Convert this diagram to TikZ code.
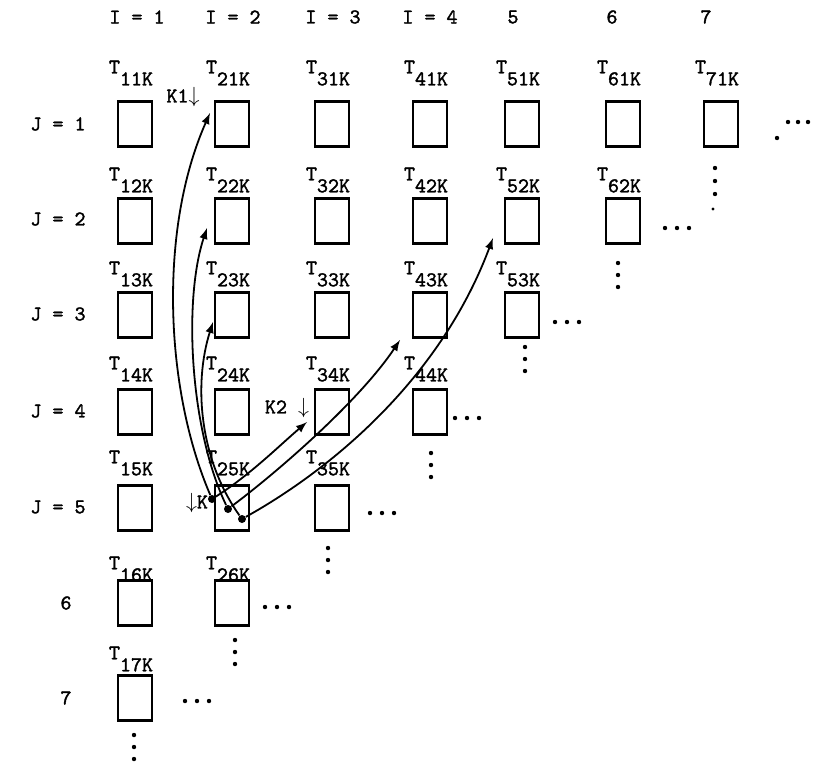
\documentclass[tikz,border=0pt]{standalone}
\usepackage{fontspec}
\usepackage{tikz}
\usetikzlibrary{arrows.meta}
\newfontfamily\typefont{lmmono10-regular.otf}[FakeBold=1.6]
\newcommand{\tlab}[1]{T\raisebox{-6pt}{#1}}

\begin{document}
\begin{tikzpicture}[>=latex, x=0.5pt, y=-0.5pt,
    font=\fontsize{10.5}{12}\typefont,
    cell/.style={draw, line width=1.3pt, minimum width=17pt, minimum height=22.5pt, inner sep=0pt},
    kdot/.style={circle, fill, inner sep=0pt, minimum size=4pt},
    flow/.style={->, line width=0.9pt}]
    \useasboundingbox (0,0) rectangle (819,761);

    % Kopfzeile I und Zeilen J
    \node (i1) at (137,17) {I = 1};
    \node (i2) at (233,17) {I = 2};
    \node (i3) at (333,17) {I = 3};
    \node (i4) at (430,17) {I = 4};
    \node (i5) at (513,17) {5};
    \node (i6) at (612,17) {6};
    \node (i7) at (706,17) {7};
    \node (j1) at (58,124) {J = 1};
    \node (j2) at (58,219) {J = 2};
    \node (j3) at (58,314) {J = 3};
    \node (j4) at (58,411) {J = 4};
    \node (j5) at (58,507) {J = 5};
    \node (j6) at (66,603) {6};
    \node (j7) at (66,698) {7};

    % Zellen T_IJK (Dreieck)
    \foreach \y/\ty [count=\j] in {124/73,221/180,315/274,412/369,508/463,603/569,698/659}{
        \pgfmathtruncatemacro{\n}{8-\j}
        \foreach \x [count=\i] in {135,232,332,430,522,623,721}{
            \ifnum\i>\n\else
                \node[cell] (b\i\j) at (\x,\y) {};
                \node (t\i\j) at (\x-4,\ty) {\tlab{\i\j K}};
            \fi
        }
    }

    % Punkte rechts
    \foreach \x/\y in {665/228, 555/322, 455/418, 370/513, 265/607, 185/701}
        \foreach \k in {0,1,2}
            \fill (\x+12*\k,\y) circle (1.1pt);
    \fill (777,138) circle (1.1pt);
    \foreach \k in {0,1,2}
        \fill (788+10*\k,122) circle (1.1pt);
    % Punkte unten
    \foreach \x/\y in {618/263, 525/347, 431/453, 328/548, 235/640, 134/735}
        \foreach \k in {0,1,2}
            \fill (\x,\y+12*\k) circle (1.1pt);
    \foreach \k in {0,1,2}
        \fill (715,168+13*\k) circle (1.1pt);
    \fill (713,209) circle (0.8pt);

    % Richtungen
    \node (k1) at (183,97) {K1$\downarrow$};
    \node (k2) at (287,408) {K2 $\downarrow$};
    \node (kk) at (197,503) {$\downarrow$K};

    % Abhaengigkeiten von T25K
    \node[kdot] (ka) at (212,499) {};
    \node[kdot] (kb) at (228,509) {};
    \node[kdot] (kc) at (242,519) {};
    \coordinate (e21) at (210,113);
    \coordinate (e22) at (207,228);
    \coordinate (e23) at (213,322);
    \coordinate (e34) at (307,422);
    \coordinate (e43) at (400,340);
    \coordinate (e52) at (493,238);
    \draw[flow] (ka) .. controls (165,390) and (158,230) .. (e21);
    \draw[flow] (kb) .. controls (190,430) and (183,300) .. (e22);
    \draw[flow] (kc) .. controls (200,460) and (193,385) .. (e23);
    \draw[flow] (ka) .. controls (250,475) and (280,445) .. (e34);
    \draw[flow] (kb) .. controls (280,470) and (360,400) .. (e43);
    \draw[flow] (kc) .. controls (330,470) and (440,380) .. (e52);
\end{tikzpicture}
\end{document}
